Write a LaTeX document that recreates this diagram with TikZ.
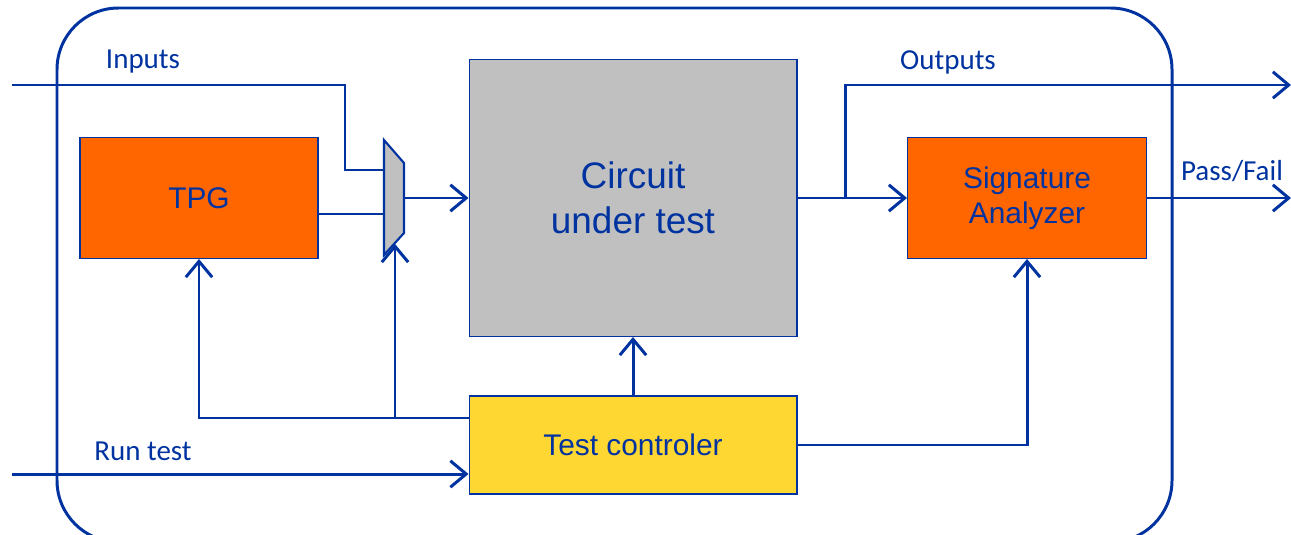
\documentclass[tikz,border=0pt]{standalone}
\usepackage{fontspec}
\setmainfont{Carlito}
\newfontfamily\boxfont{Liberation Sans}
\usetikzlibrary{arrows.meta,positioning}
\definecolor{wireblue}{HTML}{0033A0}
\definecolor{tpgorange}{HTML}{FF6600}
\definecolor{cutgray}{HTML}{C0C0C0}
\definecolor{ctlyellow}{HTML}{FFD733}

\begin{document}
\begin{tikzpicture}[x=0.02cm,y=-0.02cm,line width=1.7pt,draw=wireblue,
  >={Straight Barb[length=9pt,width=15pt]},
  blk/.style={draw=wireblue,line width=0.6pt,text=wireblue,align=center,inner sep=0pt,
    font=\boxfont\fontsize{17}{20}\selectfont},
  lbl/.style={text=wireblue,font=\fontsize{16.5}{19}\selectfont}]
\useasboundingbox(0,0)rectangle(1291,534);
\draw[rounded corners=35](57,8)rectangle(1172,542);
% blocks
\node[blk,fill=tpgorange,minimum width=4.76cm,minimum height=2.42cm](tpg)at(199,198){TPG};
\node[blk,fill=cutgray,minimum width=6.56cm,minimum height=5.54cm,
  font=\boxfont\fontsize{21}{25.5}\selectfont](cut)at(633,198){Circuit\\under test};
\node[blk,fill=tpgorange,minimum width=4.78cm,minimum height=2.42cm](sa)at(1027,198){Signature\\Analyzer};
\node[blk,fill=ctlyellow,minimum width=6.56cm,minimum height=1.96cm](ctl)at(633,445){Test controler};
% multiplexer
\draw[line width=1.2pt,fill=cutgray](384,140)--(404,163)--(404,233)--(384,255)--cycle;
\coordinate(mA)at(384,170);\coordinate(mB)at(384,214);
\coordinate(mO)at(404,198);\coordinate(mS)at(395,244);
% free ends
\coordinate(in)at(12,85);\coordinate(run)at(12,474);
\coordinate(out)at(1291,85);\coordinate(pf)at(1291,198);
\coordinate(br)at(845,198);
% wires
\draw(in)-|(345,170)--(mA);
\draw(tpg.east|-mB)--(mB);
\draw[->](mO)--(cut.west|-mO);
\draw[->](cut)--(sa);
\draw[->](br)|-(out);
\draw[->](sa)--(pf);
\draw[->](ctl)--(cut);
\draw[->](ctl)-|(sa);
\draw[->](ctl.west|-0,418)-|(tpg);
\draw[->](mS|-0,418)--(mS);
\draw[->](run)--(ctl.west|-run);
% labels
\node[lbl]at(143,62){Inputs};
\node[lbl]at(143,451){Run test};
\node[lbl]at(948,62){Outputs};
\node[lbl]at(1232,171){Pass/Fail};
\end{tikzpicture}
\end{document}
